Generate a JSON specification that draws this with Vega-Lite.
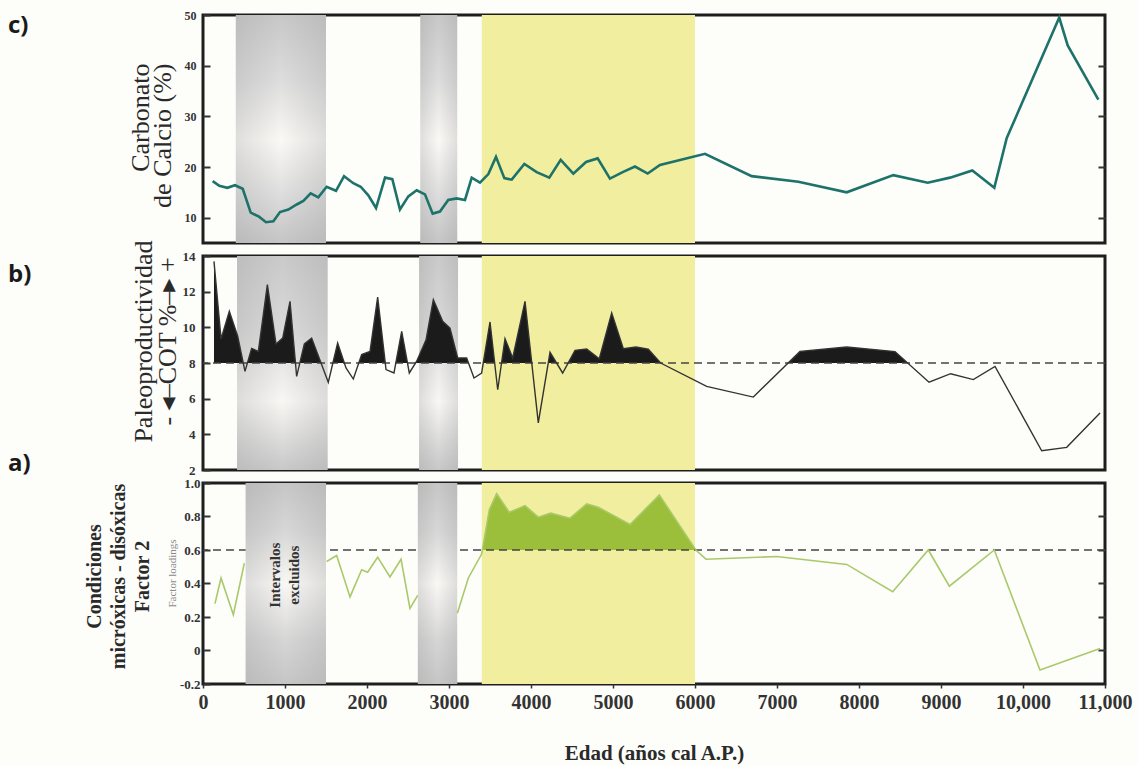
{
  "$schema": "https://vega.github.io/schema/vega-lite/v6.json",
  "background": "#fdfdfa",
  "padding": {"left": 6, "top": 7, "right": 4, "bottom": 0},
  "spacing": 13,
  "bounds": "flush",
  "config": {
    "view": {"stroke": "#1e1e1e", "strokeWidth": 3},
    "axis": {
      "grid": false,
      "domain": false,
      "labelFont": "Liberation Serif",
      "labelFontWeight": "bold",
      "labelColor": "#333333",
      "tickColor": "#333333",
      "titleFont": "Liberation Serif, DejaVu Sans",
      "titleColor": "#2a2a2a"
    },
    "title": {
      "font": "Open Sans",
      "fontWeight": "bold",
      "fontSize": 24,
      "color": "#1a1a1a",
      "anchor": "start",
      "frame": "group",
      "baseline": "top",
      "offset": 0,
      "dx": -195
    }
  },
  "datasets": {
    "amarillo": [{"inicio": 3400, "fin": 6000}],
    "gris_c": [{"inicio": 400, "fin": 1500}, {"inicio": 2650, "fin": 3100}],
    "gris_b": [{"inicio": 415, "fin": 1520}, {"inicio": 2635, "fin": 3110}],
    "gris_a": [{"inicio": 520, "fin": 1500}, {"inicio": 2620, "fin": 3100}],
    "carbonato": [
      {"edad": 118, "valor": 17.2}, {"edad": 199, "valor": 16.3}, {"edad": 297, "valor": 15.9},
      {"edad": 390, "valor": 16.4}, {"edad": 484, "valor": 15.7}, {"edad": 582, "valor": 11.0},
      {"edad": 683, "valor": 10.2}, {"edad": 768, "valor": 9.1}, {"edad": 858, "valor": 9.3},
      {"edad": 939, "valor": 11.1}, {"edad": 1041, "valor": 11.6}, {"edad": 1143, "valor": 12.6},
      {"edad": 1224, "valor": 13.3}, {"edad": 1313, "valor": 14.8}, {"edad": 1406, "valor": 14.0},
      {"edad": 1508, "valor": 16.1}, {"edad": 1622, "valor": 15.3}, {"edad": 1720, "valor": 18.2},
      {"edad": 1833, "valor": 16.8}, {"edad": 1923, "valor": 16.1}, {"edad": 2016, "valor": 14.4},
      {"edad": 2110, "valor": 11.9}, {"edad": 2220, "valor": 17.9}, {"edad": 2309, "valor": 17.6},
      {"edad": 2402, "valor": 11.6}, {"edad": 2504, "valor": 14.2}, {"edad": 2606, "valor": 15.4},
      {"edad": 2707, "valor": 14.6}, {"edad": 2801, "valor": 10.8}, {"edad": 2890, "valor": 11.2},
      {"edad": 2991, "valor": 13.5}, {"edad": 3093, "valor": 13.8}, {"edad": 3195, "valor": 13.5},
      {"edad": 3277, "valor": 17.9}, {"edad": 3378, "valor": 16.9}, {"edad": 3480, "valor": 18.6},
      {"edad": 3573, "valor": 22.0}, {"edad": 3675, "valor": 17.8}, {"edad": 3765, "valor": 17.5},
      {"edad": 3919, "valor": 20.6}, {"edad": 4069, "valor": 19.0}, {"edad": 4223, "valor": 17.9},
      {"edad": 4362, "valor": 21.4}, {"edad": 4516, "valor": 18.7}, {"edad": 4671, "valor": 21.0},
      {"edad": 4813, "valor": 21.7}, {"edad": 4963, "valor": 17.7}, {"edad": 5118, "valor": 19.0},
      {"edad": 5268, "valor": 20.1}, {"edad": 5423, "valor": 18.7}, {"edad": 5573, "valor": 20.4},
      {"edad": 6122, "valor": 22.6}, {"edad": 6691, "valor": 18.2}, {"edad": 7260, "valor": 17.1},
      {"edad": 7850, "valor": 15.0}, {"edad": 8419, "valor": 18.4}, {"edad": 8838, "valor": 16.9},
      {"edad": 9110, "valor": 17.9}, {"edad": 9382, "valor": 19.3}, {"edad": 9650, "valor": 15.9},
      {"edad": 9801, "valor": 25.7}, {"edad": 10442, "valor": 49.5}, {"edad": 10545, "valor": 44.0},
      {"edad": 10919, "valor": 33.3}
    ],
    "cot": [
      {"edad": 134, "valor": 13.7}, {"edad": 220, "valor": 9.35}, {"edad": 321, "valor": 10.9},
      {"edad": 423, "valor": 9.5}, {"edad": 512, "valor": 7.53}, {"edad": 593, "valor": 8.82},
      {"edad": 675, "valor": 8.65}, {"edad": 785, "valor": 12.4}, {"edad": 890, "valor": 9.07},
      {"edad": 972, "valor": 9.4}, {"edad": 1061, "valor": 11.46}, {"edad": 1142, "valor": 7.25},
      {"edad": 1236, "valor": 9.07}, {"edad": 1325, "valor": 9.4}, {"edad": 1528, "valor": 6.92},
      {"edad": 1642, "valor": 9.12}, {"edad": 1744, "valor": 7.72}, {"edad": 1833, "valor": 7.1},
      {"edad": 1935, "valor": 8.47}, {"edad": 2037, "valor": 8.65}, {"edad": 2130, "valor": 11.7},
      {"edad": 2232, "valor": 7.63}, {"edad": 2329, "valor": 7.44}, {"edad": 2423, "valor": 9.78},
      {"edad": 2516, "valor": 7.44}, {"edad": 2606, "valor": 8.1}, {"edad": 2720, "valor": 9.3},
      {"edad": 2809, "valor": 11.55}, {"edad": 2923, "valor": 10.34}, {"edad": 3012, "valor": 9.96},
      {"edad": 3106, "valor": 8.28}, {"edad": 3215, "valor": 8.28}, {"edad": 3305, "valor": 7.16},
      {"edad": 3398, "valor": 7.44}, {"edad": 3500, "valor": 10.3}, {"edad": 3594, "valor": 6.5},
      {"edad": 3683, "valor": 9.36}, {"edad": 3777, "valor": 8.28}, {"edad": 3927, "valor": 11.46},
      {"edad": 4089, "valor": 4.64}, {"edad": 4232, "valor": 8.6}, {"edad": 4386, "valor": 7.44},
      {"edad": 4537, "valor": 8.71}, {"edad": 4679, "valor": 8.78}, {"edad": 4833, "valor": 8.24},
      {"edad": 4984, "valor": 10.8}, {"edad": 5126, "valor": 8.8}, {"edad": 5280, "valor": 8.9},
      {"edad": 5430, "valor": 8.77}, {"edad": 5581, "valor": 8.0}, {"edad": 6142, "valor": 6.69},
      {"edad": 6711, "valor": 6.09}, {"edad": 7280, "valor": 8.65}, {"edad": 7850, "valor": 8.9},
      {"edad": 8439, "valor": 8.64}, {"edad": 8854, "valor": 6.92}, {"edad": 9118, "valor": 7.4},
      {"edad": 9394, "valor": 7.07}, {"edad": 9659, "valor": 7.81}, {"edad": 10228, "valor": 3.08},
      {"edad": 10533, "valor": 3.27}, {"edad": 10939, "valor": 5.2}
    ],
    "factor2": [
      {"edad": 146, "valor": 0.28, "tramo": 1}, {"edad": 220, "valor": 0.433, "tramo": 1},
      {"edad": 370, "valor": 0.214, "tramo": 1}, {"edad": 504, "valor": 0.522, "tramo": 1},
      {"edad": 1508, "valor": 0.531, "tramo": 2}, {"edad": 1630, "valor": 0.567, "tramo": 2},
      {"edad": 1793, "valor": 0.32, "tramo": 2}, {"edad": 1935, "valor": 0.482, "tramo": 2},
      {"edad": 2008, "valor": 0.467, "tramo": 2}, {"edad": 2130, "valor": 0.557, "tramo": 2},
      {"edad": 2280, "valor": 0.439, "tramo": 2}, {"edad": 2415, "valor": 0.545, "tramo": 2},
      {"edad": 2524, "valor": 0.251, "tramo": 2}, {"edad": 2618, "valor": 0.329, "tramo": 2},
      {"edad": 3102, "valor": 0.222, "tramo": 3}, {"edad": 3236, "valor": 0.433, "tramo": 3},
      {"edad": 3398, "valor": 0.576, "tramo": 3}, {"edad": 3492, "valor": 0.841, "tramo": 3},
      {"edad": 3581, "valor": 0.937, "tramo": 3}, {"edad": 3735, "valor": 0.825, "tramo": 3},
      {"edad": 3927, "valor": 0.865, "tramo": 3}, {"edad": 4089, "valor": 0.796, "tramo": 3},
      {"edad": 4240, "valor": 0.82, "tramo": 3}, {"edad": 4476, "valor": 0.79, "tramo": 3},
      {"edad": 4679, "valor": 0.875, "tramo": 3}, {"edad": 4821, "valor": 0.855, "tramo": 3},
      {"edad": 5208, "valor": 0.752, "tramo": 3}, {"edad": 5565, "valor": 0.929, "tramo": 3},
      {"edad": 6010, "valor": 0.6, "tramo": 3}, {"edad": 6134, "valor": 0.545, "tramo": 3},
      {"edad": 6996, "valor": 0.561, "tramo": 3}, {"edad": 7850, "valor": 0.514, "tramo": 3},
      {"edad": 8411, "valor": 0.351, "tramo": 3}, {"edad": 8845, "valor": 0.6, "tramo": 3},
      {"edad": 9102, "valor": 0.384, "tramo": 3}, {"edad": 9650, "valor": 0.6, "tramo": 3},
      {"edad": 10207, "valor": -0.116, "tramo": 3}, {"edad": 10939, "valor": 0.012, "tramo": 3}
    ],
    "umbral_b": [{"umbral": 8}],
    "umbral_a": [{"umbral": 0.6}]
  },
  "vconcat": [
    {
      "width": 902,
      "height": 228,
      "title": {"text": "c)", "dy": 33},
      "layer": [
        {
          "data": {"name": "amarillo"},
          "mark": {"type": "rect", "fill": "#f2ee9f"},
          "encoding": {
            "x": {"field": "inicio", "type": "quantitative", "scale": {"domain": [0, 11000], "nice": false}, "axis": null},
            "x2": {"field": "fin"}
          }
        },
        {
          "data": {"name": "gris_c"},
          "mark": {"type": "rect", "fill": {"gradient": "linear", "x1": 0, "y1": 0, "x2": 0, "y2": 1, "stops": [
            {"offset": 0, "color": "#c8c8c8"}, {"offset": 0.3, "color": "#dedede"},
            {"offset": 0.55, "color": "#faf9f6"}, {"offset": 0.8, "color": "#dcdcdc"}, {"offset": 1, "color": "#c5c5c5"}]}},
          "encoding": {
            "x": {"field": "inicio", "type": "quantitative", "scale": {"domain": [0, 11000], "nice": false}, "axis": null},
            "x2": {"field": "fin"},
            "y": {"datum": 5, "type": "quantitative", "scale": {"domain": [5, 50], "nice": false, "zero": false},
              "axis": {"orient": "right", "values": [10, 20, 30, 40], "labels": false, "tickSize": -7, "tickWidth": 2, "title": null}},
            "y2": {"datum": 50}
          }
        },
        {
          "data": {"name": "gris_c"},
          "mark": {"type": "rect", "fill": {"gradient": "linear", "x1": 0, "y1": 0, "x2": 1, "y2": 0, "stops": [
            {"offset": 0, "color": "rgba(160,160,160,0.3)"}, {"offset": 0.5, "color": "rgba(160,160,160,0)"},
            {"offset": 1, "color": "rgba(160,160,160,0.3)"}]}},
          "encoding": {
            "x": {"field": "inicio", "type": "quantitative", "scale": {"domain": [0, 11000], "nice": false}, "axis": null},
            "x2": {"field": "fin"}
          }
        },
        {
          "data": {"name": "carbonato"},
          "mark": {"type": "line", "color": "#1d7269", "strokeWidth": 2.6},
          "encoding": {
            "x": {"field": "edad", "type": "quantitative", "scale": {"domain": [0, 11000], "nice": false}, "axis": null},
            "y": {"field": "valor", "type": "quantitative", "scale": {"domain": [5, 50], "nice": false, "zero": false},
              "axis": {"orient": "left", "values": [10, 20, 30, 40, 50], "tickSize": -7, "tickWidth": 2,
                "labelPadding": 14, "labelFontSize": 12,
                "title": ["Carbonato", "de Calcio (%)"], "titleFontSize": 26, "titleFontWeight": "normal",
                "titleAngle": 270, "titleX": -63, "titleY": 48, "titleAlign": "right", "titleBaseline": "middle",
                "titleLineHeight": 22}}
          }
        }
      ],
      "resolve": {"axis": {"y": "independent"}}
    },
    {
      "width": 902,
      "height": 214,
      "title": {"text": "b)", "dy": 51},
      "layer": [
        {
          "data": {"name": "amarillo"},
          "mark": {"type": "rect", "fill": "#f2ee9f"},
          "encoding": {
            "x": {"field": "inicio", "type": "quantitative", "scale": {"domain": [0, 11000], "nice": false}, "axis": null},
            "x2": {"field": "fin"}
          }
        },
        {
          "data": {"name": "gris_b"},
          "mark": {"type": "rect", "fill": {"gradient": "linear", "x1": 0, "y1": 0, "x2": 0, "y2": 1, "stops": [
            {"offset": 0, "color": "#cacaca"}, {"offset": 0.35, "color": "#dadada"},
            {"offset": 0.68, "color": "#f8f7f4"}, {"offset": 0.9, "color": "#d6d6d6"}, {"offset": 1, "color": "#c8c8c8"}]}},
          "encoding": {
            "x": {"field": "inicio", "type": "quantitative", "scale": {"domain": [0, 11000], "nice": false}, "axis": null},
            "x2": {"field": "fin"}
          }
        },
        {
          "data": {"name": "gris_b"},
          "mark": {"type": "rect", "fill": {"gradient": "linear", "x1": 0, "y1": 0, "x2": 1, "y2": 0, "stops": [
            {"offset": 0, "color": "rgba(160,160,160,0.3)"}, {"offset": 0.5, "color": "rgba(160,160,160,0)"},
            {"offset": 1, "color": "rgba(160,160,160,0.3)"}]}},
          "encoding": {
            "x": {"field": "inicio", "type": "quantitative", "scale": {"domain": [0, 11000], "nice": false}, "axis": null},
            "x2": {"field": "fin"}
          }
        },
        {
          "data": {"name": "cot"},
          "mark": {"type": "area", "fill": {"gradient": "linear", "x1": 0, "y1": 0, "x2": 0, "y2": 1, "stops": [
            {"offset": 0, "color": "#1b1b1b"}, {"offset": 0.5367, "color": "#1b1b1b"},
            {"offset": 0.5367, "color": "rgba(27,27,27,0)"}, {"offset": 1, "color": "rgba(27,27,27,0)"}]}},
          "encoding": {
            "x": {"field": "edad", "type": "quantitative", "scale": {"domain": [0, 11000], "nice": false}, "axis": null},
            "y": {"field": "valor", "type": "quantitative", "scale": {"domain": [2, 14], "nice": false, "zero": false}, "axis": null},
            "y2": {"datum": 8}
          }
        },
        {
          "data": {"name": "umbral_b"},
          "mark": {"type": "rule", "color": "#444444", "strokeWidth": 1.6, "strokeDash": [8, 5]},
          "encoding": {
            "y": {"field": "umbral", "type": "quantitative", "scale": {"domain": [2, 14], "nice": false, "zero": false}, "axis": null}
          }
        },
        {
          "data": {"name": "cot"},
          "mark": {"type": "line", "color": "#333333", "strokeWidth": 1.4},
          "encoding": {
            "x": {"field": "edad", "type": "quantitative", "scale": {"domain": [0, 11000], "nice": false}, "axis": null},
            "y": {"field": "valor", "type": "quantitative", "scale": {"domain": [2, 14], "nice": false, "zero": false},
              "axis": {"orient": "left", "values": [2, 4, 6, 8, 10, 12, 14], "tickSize": -7, "tickWidth": 2,
                "labelPadding": 15, "labelFontSize": 13,
                "title": ["Paleoproductividad", "- ◂–COT %–▸ +"], "titleFontSize": 26, "titleFontWeight": "normal",
                "titleAngle": 270, "titleX": -60, "titleY": 85, "titleAlign": "center", "titleBaseline": "middle",
                "titleLineHeight": 24}}
          }
        }
      ],
      "resolve": {"axis": {"y": "independent"}}
    },
    {
      "width": 902,
      "height": 201,
      "title": {"text": "a)", "dy": 3},
      "layer": [
        {
          "data": {"name": "amarillo"},
          "mark": {"type": "rect", "fill": "#f2ee9f"},
          "encoding": {
            "x": {"field": "inicio", "type": "quantitative", "scale": {"domain": [0, 11000], "nice": false}, "axis": null},
            "x2": {"field": "fin"}
          }
        },
        {
          "data": {"name": "factor2"},
          "transform": [{"filter": "datum.tramo == 3"}],
          "mark": {"type": "area", "fill": {"gradient": "linear", "x1": 0, "y1": 0, "x2": 0, "y2": 1, "stops": [
            {"offset": 0, "color": "#9bbf3a"}, {"offset": 0.32, "color": "#9bbf3a"},
            {"offset": 0.32, "color": "rgba(155,191,58,0)"}, {"offset": 1, "color": "rgba(155,191,58,0)"}]}},
          "encoding": {
            "x": {"field": "edad", "type": "quantitative", "scale": {"domain": [0, 11000], "nice": false}, "axis": null},
            "y": {"field": "valor", "type": "quantitative", "scale": {"domain": [-0.2, 1.0], "nice": false, "zero": false},
              "axis": {"orient": "left", "values": [-0.2, 0, 0.2, 0.4, 0.6, 0.8, 1.0], "tickSize": -7, "tickWidth": 2,
                "labelPadding": 10, "labelFontSize": 13,
                "labelExpr": "datum.value == 0 ? '0' : replace(format(datum.value, '.1f'), '−', '-')",
                "title": "Factor loadings", "titleFontSize": 11, "titleFontWeight": "normal", "titleColor": "#8a8a8a",
                "titleAngle": 270, "titleX": -31, "titleY": 90, "titleAlign": "center", "titleBaseline": "middle"}},
            "y2": {"datum": 0.6}
          }
        },
        {
          "data": {"name": "umbral_a"},
          "mark": {"type": "rule", "color": "#444444", "strokeWidth": 1.6, "strokeDash": [8, 5]},
          "encoding": {
            "y": {"field": "umbral", "type": "quantitative", "scale": {"domain": [-0.2, 1.0], "nice": false, "zero": false},
              "axis": {"orient": "left", "labels": false, "ticks": false,
                "title": ["Condiciones", "micróxicas - disóxicas", "Factor 2"], "titleFontSize": 20, "titleFontWeight": "bold",
                "titleAngle": 270, "titleX": -109, "titleY": 93, "titleAlign": "center", "titleBaseline": "middle",
                "titleLineHeight": 24}}
          }
        },
        {
          "data": {"name": "gris_a"},
          "mark": {"type": "rect", "fill": {"gradient": "linear", "x1": 0, "y1": 0, "x2": 0, "y2": 1, "stops": [
            {"offset": 0, "color": "#c6c6c6"}, {"offset": 0.25, "color": "#d8d8d8"},
            {"offset": 0.5, "color": "#f9f8f5"}, {"offset": 0.78, "color": "#d6d6d6"}, {"offset": 1, "color": "#c6c6c6"}]}},
          "encoding": {
            "x": {"field": "inicio", "type": "quantitative", "scale": {"domain": [0, 11000], "nice": false}, "axis": null},
            "x2": {"field": "fin"},
            "y": {"datum": -0.2, "type": "quantitative", "scale": {"domain": [-0.2, 1.0], "nice": false, "zero": false},
              "axis": {"orient": "right", "values": [0, 0.2, 0.4, 0.6, 0.8], "labels": false, "tickSize": -7, "tickWidth": 2, "title": null}},
            "y2": {"datum": 1.0}
          }
        },
        {
          "data": {"name": "gris_a"},
          "mark": {"type": "rect", "fill": {"gradient": "linear", "x1": 0, "y1": 0, "x2": 1, "y2": 0, "stops": [
            {"offset": 0, "color": "rgba(160,160,160,0.3)"}, {"offset": 0.5, "color": "rgba(160,160,160,0)"},
            {"offset": 1, "color": "rgba(160,160,160,0.3)"}]}},
          "encoding": {
            "x": {"field": "inicio", "type": "quantitative", "scale": {"domain": [0, 11000], "nice": false}, "axis": null},
            "x2": {"field": "fin"}
          }
        },
        {
          "data": {"name": "factor2"},
          "mark": {"type": "line", "color": "#a9c96a", "strokeWidth": 1.6},
          "encoding": {
            "x": {"field": "edad", "type": "quantitative", "scale": {"domain": [0, 11000], "nice": false},
              "axis": {"values": [0, 1000, 2000, 3000, 4000, 5000, 6000, 7000, 8000, 9000, 10000, 11000],
                "labelExpr": "datum.value >= 10000 ? format(datum.value, ',') : format(datum.value, 'd')",
                "labelFlush": false, "labelOverlap": false, "labelFontSize": 20, "labelPadding": 4,
                "tickSize": 4, "tickWidth": 1.5,
                "title": "Edad (años cal A.P.)", "titleFontSize": 21, "titleFontWeight": "bold", "titlePadding": 30}},
            "y": {"field": "valor", "type": "quantitative", "scale": {"domain": [-0.2, 1.0], "nice": false, "zero": false}, "axis": null},
            "detail": {"field": "tramo"}
          }
        },
        {
          "data": {"values": [{}]},
          "mark": {"type": "text", "text": ["Intervalos", "excluidos"], "angle": 270, "font": "Liberation Serif",
            "fontWeight": "bold", "fontSize": 15, "lineHeight": 19, "color": "#333333", "align": "center", "baseline": "middle"},
          "encoding": {
            "x": {"datum": 880, "type": "quantitative", "scale": {"domain": [0, 11000], "nice": false}, "axis": null},
            "y": {"datum": 0.45, "type": "quantitative", "scale": {"domain": [-0.2, 1.0], "nice": false, "zero": false}, "axis": null}
          }
        }
      ],
      "resolve": {"axis": {"x": "independent", "y": "independent"}}
    }
  ]
}
